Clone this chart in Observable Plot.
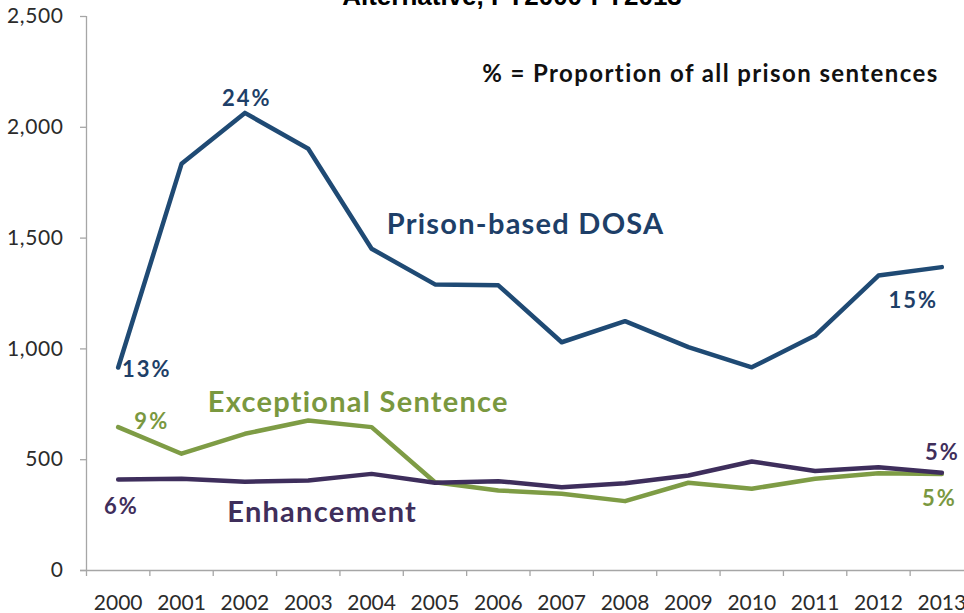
<!DOCTYPE html>
<html>
<head>
<meta charset="utf-8">
<script src="https://cdn.jsdelivr.net/npm/d3@7"></script>
<script src="https://cdn.jsdelivr.net/npm/@observablehq/plot@0.6"></script>
<style>
  body { margin: 0; background: #fff; overflow: hidden; }
  #wrap { position: relative; width: 964px; height: 613px; overflow: hidden; }
  #title { position: absolute; top: -17px; left: 0; width: 1024px; text-align: center;
           font: bold 26px "Liberation Sans Narrow", "Arial Narrow", "Liberation Sans", sans-serif;
           line-height: 1; white-space: nowrap; color: #000; }
  #chart { position: absolute; top: 0; left: 0; }
</style>
</head>
<body>
<div id="wrap">
  <div id="chart"></div>
  <div id="title">Alternative, FY2000-FY2013</div>
</div>
<script>
const years = [2000, 2001, 2002, 2003, 2004, 2005, 2006, 2007, 2008, 2009, 2010, 2011, 2012, 2013];
const dosa = [916, 1835, 2065, 1903, 1452, 1291, 1287, 1030, 1125, 1008, 917, 1060, 1331, 1369];
const exceptional = [647, 527, 617, 677, 647, 398, 361, 346, 313, 396, 369, 414, 439, 436];
const enhancement = [411, 414, 401, 406, 436, 396, 403, 376, 394, 429, 492, 449, 466, 441];
const yTicks = [0, 500, 1000, 1500, 2000, 2500];

const seriesNames = ["Prison-based DOSA", "Exceptional Sentence", "Enhancement"];
const seriesColors = ["#1f4a74", "#7e9c45", "#3e2e5c"];
const labelColors = ["#1e3f68", "#7a983f", "#3f2e5b"];

const seriesLabels = [
  {text: "Prison-based DOSA", x: 2006.43, y: 1561, c: 0},
  {text: "Exceptional Sentence", x: 2003.79, y: 758, c: 1},
  {text: "Enhancement", x: 2003.22, y: 262, c: 2}
];
const pctLabels = [
  {text: "24%", x: 2002.03, y: 2130, c: 0},
  {text: "13%", x: 2000.45, y: 907, c: 0},
  {text: "15%", x: 2012.55, y: 1218, c: 0},
  {text: "9%", x: 2000.53, y: 672, c: 1},
  {text: "6%", x: 2000.05, y: 289, c: 2},
  {text: "5%", x: 2013.01, y: 532, c: 2},
  {text: "5%", x: 2012.96, y: 325, c: 1}
];
const note = [{text: "% = Proportion of all prison sentences", x: 2012.95, y: 2238}];

const rows = [
  ...years.map((yr, i) => ({series: seriesNames[0], year: yr, value: dosa[i]})),
  ...years.map((yr, i) => ({series: seriesNames[1], year: yr, value: exceptional[i]})),
  ...years.map((yr, i) => ({series: seriesNames[2], year: yr, value: enhancement[i]}))
];
const edges = [years[0] - 0.5, ...years.map(y => y + 0.5)];
const font = "Lato, Calibri, sans-serif";
const fmt = d3.format(",");

const plot = Plot.plot({
  width: 964,
  height: 613,
  marginLeft: 86,
  marginRight: 0,
  marginTop: 16,
  marginBottom: 43,
  style: {fontFamily: font, background: "transparent"},
  x: {type: "linear", domain: [1999.5, 2013.5], range: [86, 973], axis: null},
  y: {domain: [0, 2500], range: [570, 16], axis: null},
  color: {domain: seriesNames, range: seriesColors},
  marks: [
    Plot.ruleX([1999.5], {y1: 0, y2: 2500, stroke: "#a6a6a6", strokeWidth: 1.3}),
    Plot.ruleY(yTicks, {x1: 1999.5, x2: 1999.5 - 6 / 63.36, y: d => d, stroke: "#a6a6a6", strokeWidth: 1.3}),
    Plot.ruleY([0], {x1: 1999.5 - 6 / 63.36, x2: 2013.5, stroke: "#a6a6a6", strokeWidth: 1.3}),
    Plot.ruleX(edges, {x: d => d, y1: 0, y2: -27, stroke: "#a6a6a6", strokeWidth: 1.3}),
    Plot.text(yTicks, {x: 1999.5, y: d => d, dx: -23, textAnchor: "end", text: d => fmt(d),
      fontSize: 21, fill: "#2b2b2b"}),
    Plot.text(years, {x: d => d, y: 0, dy: 33, text: d => String(d), fontSize: 21, fill: "#2b2b2b"}),
    Plot.line(rows, {x: "year", y: "value", z: "series", stroke: "series", strokeWidth: 4.5,
      strokeLinejoin: "round", strokeLinecap: "round"}),
    Plot.text(seriesLabels, {x: "x", y: "y", text: "text", fill: d => labelColors[d.c], fontSize: 29,
      fontWeight: "bold"}),
    Plot.text(pctLabels, {x: "x", y: "y", text: "text", fill: d => labelColors[d.c], fontSize: 22,
      fontWeight: "bold"}),
    Plot.text(note, {x: "x", y: "y", text: "text", textAnchor: "end", fill: "#111", fontSize: 24,
      fontWeight: "bold"})
  ]
});
const spacing = new Map([
  ...seriesLabels.map(d => [d.text, "1.25px"]),
  ...pctLabels.map(d => [d.text, "2px"]),
  ...note.map(d => [d.text, "1.4px"]),
  ...yTicks.map(d => [fmt(d), "0.6px"])
]);
d3.select(plot).selectAll("text").each(function () {
  const s = spacing.get(this.textContent);
  if (s) this.style.letterSpacing = s;
});
document.getElementById("chart").appendChild(plot);
</script>
</body>
</html>
